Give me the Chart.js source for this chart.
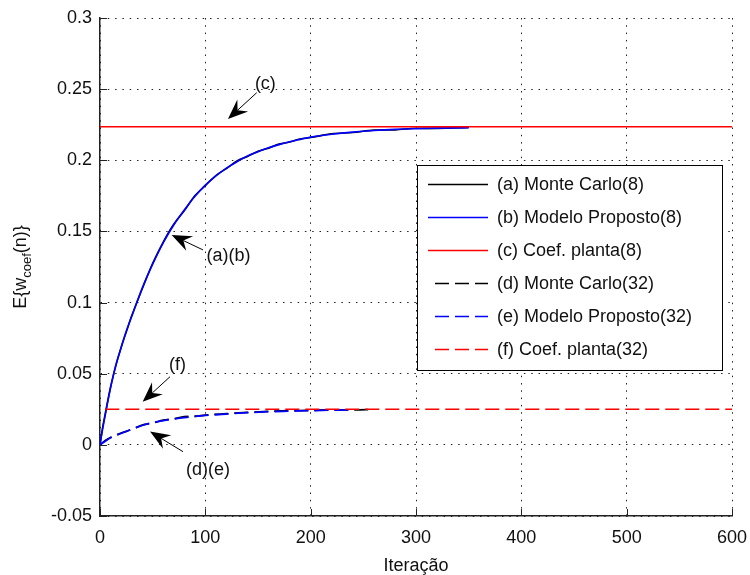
<!DOCTYPE html>
<html>
<head>
<meta charset="utf-8">
<script src="https://cdn.jsdelivr.net/npm/chart.js@4"></script>
<style>
  html, body { margin: 0; padding: 0; background: #fff; }
  #wrap { width: 750px; height: 575px; }
</style>
</head>
<body>
<div id="wrap"><canvas id="grafico" width="750" height="575"></canvas></div>
<script>
// ===============================
// DADOS
// ===============================

// iterações das curvas com 8 coeficientes
const iterOito = [0, 2, 5, 10, 15, 20, 25, 30, 40, 50, 60, 70, 80, 90, 100, 110, 120, 130, 140, 150, 160, 170, 180, 190, 200, 220, 240, 260, 280, 300, 320, 350];
const monteCarlo8 = [0, 0.0100, 0.0220, 0.0405, 0.0555, 0.0685, 0.0795, 0.0905, 0.1095, 0.1275, 0.1425, 0.1550, 0.1645, 0.1750, 0.1822, 0.1893, 0.1942, 0.1995, 0.2027, 0.2063, 0.2085, 0.2114, 0.2128, 0.2150, 0.2160, 0.2186, 0.2195, 0.2212, 0.2214, 0.2225, 0.2224, 0.2231];
const modelo8 = [0, 0.0090, 0.0210, 0.0400, 0.0560, 0.0680, 0.0800, 0.0900, 0.1100, 0.1270, 0.1420, 0.1545, 0.1650, 0.1745, 0.1825, 0.1890, 0.1945, 0.1990, 0.2030, 0.2060, 0.2088, 0.2110, 0.2130, 0.2147, 0.2163, 0.2183, 0.2198, 0.2209, 0.2217, 0.2222, 0.2226, 0.2229];

// iterações das curvas com 32 coeficientes
const iterMC32 = [0, 5, 10, 20, 30, 40, 50, 60, 70, 80, 90, 100, 120, 140, 160, 180, 200, 220, 240, 260];
const monteCarlo32 = [0, 0.0030, 0.0052, 0.0083, 0.0108, 0.0139, 0.0153, 0.0173, 0.0183, 0.0198, 0.0201, 0.0209, 0.0219, 0.0228, 0.0235, 0.0240, 0.0242, 0.0246, 0.0246, 0.0249];
const iterMod32 = [0, 5, 10, 20, 30, 40, 50, 60, 70, 80, 90, 100, 120, 140, 160, 180, 200, 220, 240];
const modelo32 = [0, 0.0025, 0.0050, 0.0080, 0.0110, 0.0136, 0.0156, 0.0170, 0.0182, 0.0192, 0.0200, 0.0207, 0.0217, 0.0226, 0.0233, 0.0237, 0.0241, 0.0244, 0.0246];

// coeficiente da planta
const iterPlanta8 = [0, 600];
const planta8 = [0.2236, 0.2236];
const iterPlanta32 = [5, 600];
const planta32 = [0.025, 0.025];

const rotulos = ["(a) Monte Carlo(8)", "(b) Modelo Proposto(8)", "(c) Coef. planta(8)", "(d) Monte Carlo(32)", "(e) Modelo Proposto(32)", "(f) Coef. planta(32)"];

const xTicks = [0, 100, 200, 300, 400, 500, 600];
const yTicks = [-0.05, 0, 0.05, 0.1, 0.15, 0.2, 0.25, 0.3];
const yTickLabels = ["-0.05", "0", "0.05", "0.1", "0.15", "0.2", "0.25", "0.3"];

// setas: texto e ponta em coordenadas dos dados
const setas = [
  { texto: "(c)", tx: 157, ty: 0.2535, x0: 148.8, y0: 0.2475, x1: 121.5, y1: 0.229 },
  { texto: "(a)(b)", tx: 122, ty: 0.1330, x0: 97.8, y0: 0.137, x1: 68, y1: 0.1475 },
  { texto: "(f)", tx: 73.5, ty: 0.0560, x0: 66.5, y0: 0.0479, x1: 40.5, y1: 0.0303 },
  { texto: "(d)(e)", tx: 102.5, ty: -0.0178, x0: 78.8, y0: -0.0048, x1: 47.5, y1: 0.0093 }
];

const FONTE = '"Liberation Sans", Arial, sans-serif';

function pontos(xs, ys) {
  return xs.map(function (x, i) { return { x: x, y: ys[i] }; });
}

function serie(label, xs, ys, cor, tracejado, largura, ordem) {
  return {
    label: label,
    data: pontos(xs, ys),
    borderColor: cor,
    backgroundColor: cor,
    borderWidth: largura,
    borderDash: tracejado,
    pointRadius: 0,
    cubicInterpolationMode: "monotone",
    fill: false,
    order: ordem
  };
}

// ===============================
// DESENHOS EXTRAS
// ===============================

function setaPreta(ctx, xa, ya, xb, yb) {
  const ang = Math.atan2(yb - ya, xb - xa);
  const comp = 20, meia = 8, recuo = 13;
  ctx.save();
  ctx.strokeStyle = "#000";
  ctx.fillStyle = "#000";
  ctx.lineWidth = 1;
  ctx.beginPath();
  ctx.moveTo(xa, ya);
  ctx.lineTo(xb - Math.cos(ang) * recuo, yb - Math.sin(ang) * recuo);
  ctx.stroke();
  ctx.translate(xb, yb);
  ctx.rotate(ang);
  ctx.beginPath();
  ctx.moveTo(0, 0);
  ctx.lineTo(-comp, -meia);
  ctx.lineTo(-recuo, 0);
  ctx.lineTo(-comp, meia);
  ctx.closePath();
  ctx.fill();
  ctx.restore();
}

const extras = {
  id: "extras",
  afterDraw: function (chart) {
    const ctx = chart.ctx;
    const sx = chart.scales.x;
    const sy = chart.scales.y;
    const area = chart.chartArea;

    // marcas dos eixos para dentro
    ctx.save();
    ctx.strokeStyle = "#222";
    ctx.lineWidth = 1;
    ctx.beginPath();
    xTicks.forEach(function (v) {
      const px = Math.round(sx.getPixelForValue(v)) + 0.5;
      ctx.moveTo(px, area.bottom);
      ctx.lineTo(px, area.bottom - 7);
    });
    yTicks.forEach(function (v) {
      const py = Math.round(sy.getPixelForValue(v)) + 0.5;
      ctx.moveTo(area.left, py);
      ctx.lineTo(area.left + 7, py);
    });
    ctx.stroke();
    ctx.restore();

    // setas e textos
    ctx.save();
    ctx.fillStyle = "#111";
    ctx.font = "18px " + FONTE;
    ctx.textAlign = "center";
    ctx.textBaseline = "middle";
    setas.forEach(function (s) {
      ctx.fillText(s.texto, sx.getPixelForValue(s.tx), sy.getPixelForValue(s.ty));
      setaPreta(ctx, sx.getPixelForValue(s.x0), sy.getPixelForValue(s.y0),
        sx.getPixelForValue(s.x1), sy.getPixelForValue(s.y1));
    });
    ctx.restore();

    // legenda
    const lx = 417, ly = 165, lw = 305, lh = 205;
    ctx.save();
    ctx.fillStyle = "#fff";
    ctx.fillRect(lx, ly, lw, lh);
    ctx.strokeStyle = "#000";
    ctx.lineWidth = 1;
    ctx.strokeRect(lx + 0.5, ly + 0.5, lw, lh);
    ctx.font = "18px " + FONTE;
    ctx.textBaseline = "middle";
    ctx.textAlign = "left";
    chart.data.datasets.forEach(function (ds, i) {
      const yy = 184.5 + i * 33;
      const tracejada = ds.borderDash && ds.borderDash.length > 0;
      ctx.strokeStyle = ds.borderColor;
      ctx.lineWidth = 1.5;
      ctx.setLineDash(tracejada ? [14, 6] : []);
      ctx.beginPath();
      ctx.moveTo(tracejada ? 435 : 428, yy);
      ctx.lineTo(488, yy);
      ctx.stroke();
      ctx.setLineDash([]);
      ctx.fillStyle = "#111";
      ctx.fillText(ds.label, 497, yy + 1);
    });
    ctx.restore();

    // título do eixo x
    ctx.save();
    ctx.fillStyle = "#111";
    ctx.font = "18px " + FONTE;
    ctx.textAlign = "center";
    ctx.textBaseline = "alphabetic";
    ctx.fillText("Iteração", (area.left + area.right) / 2, 571);
    ctx.restore();

    // título do eixo y com subscrito
    ctx.save();
    ctx.fillStyle = "#111";
    ctx.translate(26, (area.top + area.bottom) / 2);
    ctx.rotate(-Math.PI / 2);
    const fMain = "18px " + FONTE, fSub = "13px " + FONTE;
    ctx.font = fMain;
    const w1 = ctx.measureText("E{w").width;
    const w3 = ctx.measureText("(n)}").width;
    ctx.font = fSub;
    const w2 = ctx.measureText("coef").width;
    let x = -(w1 + w2 + w3) / 2;
    ctx.textBaseline = "alphabetic";
    ctx.textAlign = "left";
    ctx.font = fMain;
    ctx.fillText("E{w", x, 0);
    x += w1;
    ctx.font = fSub;
    ctx.fillText("coef", x, 5);
    x += w2;
    ctx.font = fMain;
    ctx.fillText("(n)}", x, 0);
    ctx.restore();
  }
};

// ===============================
// GRÁFICO
// ===============================

const ctx = document.getElementById("grafico").getContext("2d");

const grafico = new Chart(ctx, {
  type: "line",
  data: {
    datasets: [
      serie(rotulos[0], iterOito, monteCarlo8, "#000000", [], 1.6, 3),
      serie(rotulos[1], iterOito, modelo8, "#0000ff", [], 1.6, 2),
      serie(rotulos[2], iterPlanta8, planta8, "#ff0000", [], 1.6, 1),
      serie(rotulos[3], iterMC32, monteCarlo32, "#000000", [14, 6], 1.8, 3),
      serie(rotulos[4], iterMod32, modelo32, "#0000ff", [14, 6], 1.8, 2),
      serie(rotulos[5], iterPlanta32, planta32, "#ff0000", [14, 6], 1.6, 1)
    ]
  },
  options: {
    responsive: false,
    animation: false,
    layout: { padding: { left: 0, top: 18, right: 18, bottom: 0 } },
    plugins: {
      legend: { display: false },
      tooltip: { enabled: false },
      title: { display: false }
    },
    scales: {
      x: {
        type: "linear",
        min: 0,
        max: 600,
        afterFit: function (scale) {
          scale.height = 59;
          scale.paddingLeft = 0;
          scale.paddingRight = 0;
        },
        afterBuildTicks: function (scale) {
          scale.ticks = xTicks.map(function (v) { return { value: v }; });
        },
        ticks: {
          color: "#111",
          font: { family: FONTE, size: 18 },
          padding: 11,
          maxRotation: 0,
          callback: function (v) { return String(v); }
        },
        grid: { color: "#222", lineWidth: 1, drawTicks: false },
        border: { display: true, color: "#222", width: 1.5, dash: [1.5, 5.8] }
      },
      y: {
        type: "linear",
        min: -0.05,
        max: 0.3,
        afterFit: function (scale) {
          scale.width = 100;
          scale.paddingTop = 0;
          scale.paddingBottom = 0;
        },
        afterBuildTicks: function (scale) {
          scale.ticks = yTicks.map(function (v) { return { value: v }; });
        },
        ticks: {
          color: "#111",
          font: { family: FONTE, size: 18 },
          padding: 8,
          callback: function (v) {
            const i = yTicks.findIndex(function (t) { return Math.abs(t - v) < 1e-9; });
            return i >= 0 ? yTickLabels[i] : "";
          }
        },
        grid: { color: "#222", lineWidth: 1, drawTicks: false },
        border: { display: true, color: "#222", width: 1.5, dash: [1.5, 5.8] }
      }
    }
  },
  plugins: [extras]
});
</script>
</body>
</html>
